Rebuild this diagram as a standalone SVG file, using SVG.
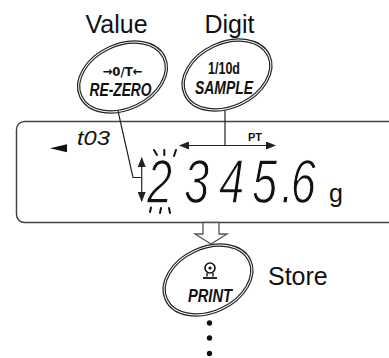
<svg xmlns="http://www.w3.org/2000/svg" width="389" height="358" viewBox="0 0 389 358">
<style>
.lbl{font-family:"Liberation Sans",Arial,sans-serif;font-size:25px;fill:#111}
.key{font-family:"Liberation Sans",Arial,sans-serif;font-weight:bold;fill:#111}
.ell{fill:#fff;stroke:#222;stroke-width:3.4}
.ellin{fill:none;stroke:#fff;stroke-width:1}
.ln{fill:none;stroke:#222;stroke-width:1.2}
.seg{font-family:"Liberation Sans",Arial,sans-serif;font-style:italic;fill:#111}
</style>
<defs>
<marker id="ah" viewBox="0 0 10 8" refX="9" refY="4" markerWidth="10" markerHeight="8" markerUnits="userSpaceOnUse" orient="auto-start-reverse">
<path d="M0,0 L10,4 L0,8 z" fill="#222"/>
</marker>
<ellipse id="e" cx="0" cy="0" rx="46" ry="32" transform="rotate(-25)"/>
</defs>

<g id="label-value"><text class="lbl" x="116.5" y="33" text-anchor="middle">Value</text></g>
<g id="label-digit"><text class="lbl" x="229.5" y="33" text-anchor="middle">Digit</text></g>

<g id="key-rezero" transform="translate(122.5,77)">
<use href="#e" class="ell"/><use href="#e" class="ellin"/>
<text x="0" y="-1" font-family="DejaVu Sans,sans-serif" font-weight="bold" fill="#111" font-size="13" text-anchor="middle" textLength="40" lengthAdjust="spacingAndGlyphs">→0/T←</text>
<text class="key" x="-2" y="19" font-size="19" font-style="italic" text-anchor="middle" textLength="62" lengthAdjust="spacingAndGlyphs">RE-ZERO</text>
</g>

<g id="key-sample" transform="translate(227,75)">
<use href="#e" class="ell"/><use href="#e" class="ellin"/>
<text class="key" x="-3" y="-1" font-size="16" text-anchor="middle" textLength="32" lengthAdjust="spacingAndGlyphs">1/10d</text>
<text class="key" x="-3" y="19" font-size="18" font-style="italic" text-anchor="middle" textLength="58" lengthAdjust="spacingAndGlyphs">SAMPLE</text>
</g>

<g id="display">
<rect x="16.5" y="121.5" width="420" height="101" rx="8" fill="#fff" stroke="#444" stroke-width="1.5"/>
<polygon points="50,148.3 67,144.3 67,152.3" fill="#111"/>
<text class="seg" x="77" y="145" font-size="21" textLength="33" lengthAdjust="spacingAndGlyphs">t03</text>
<text class="key" x="255" y="141" font-size="11" text-anchor="middle" textLength="14" lengthAdjust="spacingAndGlyphs">PT</text>
<g transform="translate(0,203) scale(0.72,1)">
<text class="seg" x="204.2 255.6 304.2 350 390.3 404" y="0" font-size="63" stroke="#fff" stroke-width="1.3">2345.6</text>
</g>
<text x="329" y="202" font-family="Liberation Sans,Arial,sans-serif" font-size="25" fill="#111">g</text>
<g stroke="#111" stroke-width="2" stroke-linecap="round">
<line x1="154" y1="150" x2="157" y2="155"/>
<line x1="164.3" y1="150" x2="164.3" y2="155"/>
<line x1="176" y1="150" x2="174" y2="156"/>
<line x1="151" y1="207.5" x2="150" y2="212"/>
<line x1="161" y1="208" x2="160" y2="213"/>
<line x1="169" y1="208" x2="170" y2="213"/>
</g>
</g>

<g id="connectors">
<polyline class="ln" points="118,111 133,177.5 141.7,177.5"/>
<line class="ln" x1="141.7" y1="158" x2="141.7" y2="201" marker-start="url(#ah)" marker-end="url(#ah)"/>
<line class="ln" x1="225" y1="110" x2="225" y2="145.5"/>
<line class="ln" x1="180" y1="145.5" x2="275" y2="145.5" marker-start="url(#ah)" marker-end="url(#ah)"/>
<polygon points="203,222.5 219,222.5 219,234 227,234 211,244 195,234 203,234" fill="#fff" stroke="#555" stroke-width="1.3"/>
<g fill="#111">
<circle cx="209.5" cy="323" r="2.7"/>
<circle cx="209.5" cy="338" r="2.7"/>
<circle cx="209.5" cy="353.5" r="2.7"/>
</g>
</g>

<g id="key-print" transform="translate(208,280)">
<use href="#e" class="ell"/><use href="#e" class="ellin"/>
<circle cx="2" cy="-12" r="5" fill="none" stroke="#111" stroke-width="1.6"/>
<circle cx="2" cy="-12" r="1.6" fill="#111"/>
<path d="M-1,-7 L-1,-3.5 M5,-7 L5,-3.5" stroke="#111" stroke-width="1.4"/>
<line x1="-5" y1="-2" x2="9" y2="-2" stroke="#111" stroke-width="1.8"/>
<text class="key" x="2" y="22" font-size="18" font-style="italic" text-anchor="middle" textLength="44" lengthAdjust="spacingAndGlyphs">PRINT</text>
</g>
<g id="label-store"><text class="lbl" x="268" y="285">Store</text></g>
</svg>
